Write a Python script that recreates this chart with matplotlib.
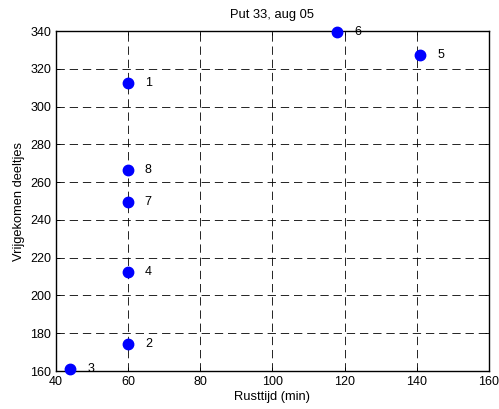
import matplotlib
matplotlib.use("Agg")
import matplotlib.pyplot as plt

plt.rcParams['font.family'] = ['Liberation Sans', 'DejaVu Sans']
plt.rcParams['lines.scale_dashes'] = False

rusttijd = [60, 60, 44, 60, 141, 118, 60, 60]
deeltjes = [312.5, 174.3, 161, 212.2, 327.5, 339.5, 249.5, 266.3]
labels = ['1', '2', '3', '4', '5', '6', '7', '8']
xticks = [40, 60, 80, 100, 120, 140, 160]
yticks = [160, 180, 200, 220, 240, 260, 280, 300, 320, 340]

fig = plt.figure(figsize=(4.99, 4.09), dpi=100)
ax = fig.add_axes([0.1122, 0.0929, 0.8677, 0.8313])

ax.plot(rusttijd, deeltjes, 'o', color='#0000ff', markersize=7.5, clip_on=False, zorder=3)
for x, y, t in zip(rusttijd, deeltjes, labels):
    ax.annotate(t, (x, y), xytext=(12, 0), textcoords='offset points',
                ha='left', va='center', fontsize=9, color='black')

ax.set_xlim(40, 160)
ax.set_ylim(160, 340)
ax.set_xticks(xticks)
ax.set_yticks(yticks)
ax.grid(True, color='black', linestyle=(0, (6, 3.5)), linewidth=0.6)
ax.tick_params(direction='in', top=True, right=True, labelsize=9, length=3, width=0.6)
for s in ax.spines.values():
    s.set_linewidth(1.0)

ax.set_title('Put 33, aug 05', fontsize=9.3, pad=9.5)
ax.set_xlabel('Rusttijd (min)', fontsize=9.3, labelpad=2)
ax.set_ylabel('Vrijgekomen deeltjes', fontsize=9.3, labelpad=4)

fig.savefig('out.png', dpi=100)
